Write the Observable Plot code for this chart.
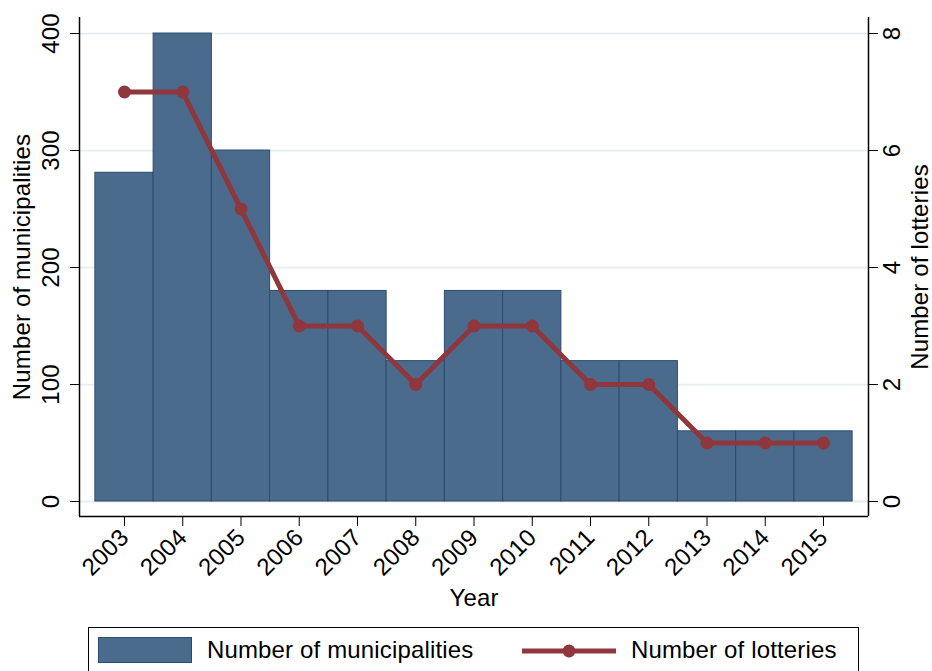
<!DOCTYPE html>
<html>
<head>
<meta charset="utf-8">
<script src="https://cdn.jsdelivr.net/npm/d3@7"></script>
<script src="https://cdn.jsdelivr.net/npm/@observablehq/plot@0.6"></script>
<style>
  html, body { margin: 0; padding: 0; background: #fff; overflow: hidden; }
  body { width: 932px; height: 671px; font-family: "Liberation Sans", Arial, sans-serif; }
  #chart { position: absolute; left: 0; top: 0; }
  .legend { position: absolute; left: 88px; top: 627px; width: 771px; height: 52px; border: 1.3px solid #000; box-sizing: border-box; }
  .legend .sw { position: absolute; }
  .legend .lab { position: absolute; font-size: 24px; letter-spacing: 0.15px; line-height: 26px; color: #000; white-space: nowrap; }
</style>
</head>
<body>
<div id="chart"></div>
<div class="legend" id="legend"></div>
<script>
const years = [2003, 2004, 2005, 2006, 2007, 2008, 2009, 2010, 2011, 2012, 2013, 2014, 2015];
const municipalities = [281, 400, 300, 180, 180, 120, 180, 180, 120, 120, 60, 60, 60];
const lotteries = [7, 7, 5, 3, 3, 2, 3, 3, 2, 2, 1, 1, 1];
const leftTicks = [0, 100, 200, 300, 400];
const rightTicks = [0, 2, 4, 6, 8];
const seriesNames = ["Number of municipalities", "Number of lotteries"];
const xTitle = "Year";

const ratio = 50; // right axis (lotteries) 8 ↔ left axis 400
const barFill = "#4a6b8c";
const barStroke = "#2a4c70";
const lineColor = "#90363d";
const gridColor = "#e4eef2";

const data = years.map((y, i) => ({year: y, muni: municipalities[i], lot: lotteries[i]}));
const xDomain = [2002.2275, 2015.7725];
const yDomain = [-12.8, 413.7];
const fs = 24;

const chart = Plot.plot({
  width: 932,
  height: 627,
  marginLeft: 79,
  marginRight: 64,
  marginTop: 17,
  marginBottom: 111,
  style: {fontFamily: "'Liberation Sans', Arial, sans-serif", fontSize: fs + "px", background: "#fff", color: "#000"},
  x: {type: "linear", domain: xDomain},
  y: {type: "linear", domain: yDomain},
  marks: [
    Plot.gridY(leftTicks, {stroke: gridColor, strokeOpacity: 1, strokeWidth: 1.8}),
    Plot.rectY(data, {x1: d => d.year - 0.5, x2: d => d.year + 0.5, y1: 0, y2: "muni", fill: barFill, stroke: barStroke, strokeWidth: 1}),
    Plot.line(data, {x: "year", y: d => d.lot * ratio, stroke: lineColor, strokeWidth: 5}),
    Plot.dot(data, {x: "year", y: d => d.lot * ratio, r: 6.5, fill: lineColor, stroke: "none"}),
    Plot.ruleX([xDomain[0]], {stroke: "#000", strokeWidth: 1.5}),
    Plot.ruleX([xDomain[1]], {stroke: "#000", strokeWidth: 1.5}),
    Plot.ruleY([yDomain[0]], {stroke: "#000", strokeWidth: 1.5}),
    Plot.axisY({anchor: "left", ticks: leftTicks, tickSize: 9, tickPadding: 12, tickRotate: -90, fontSize: fs, label: null, tickFormat: d => String(d)}),
    Plot.axisY({anchor: "right", ticks: rightTicks.map(v => v * ratio), tickSize: 9, tickPadding: 5, tickRotate: -90, lineAnchor: "top", fontSize: fs, label: null, tickFormat: d => String(d / ratio)}),
    Plot.axisX({anchor: "bottom", ticks: years, tickSize: 10, tickPadding: 7, tickRotate: -45, fontSize: fs, label: null, tickFormat: d => String(d)}),
    Plot.text([seriesNames[0]], {frameAnchor: "left", dx: -57, rotate: -90, textAnchor: "middle", lineAnchor: "middle", fontSize: fs, text: d => d}),
    Plot.text([seriesNames[1]], {frameAnchor: "right", dx: 52, rotate: -90, textAnchor: "middle", lineAnchor: "middle", fontSize: fs, text: d => d}),
    Plot.text([xTitle], {frameAnchor: "bottom", dy: 82, textAnchor: "middle", lineAnchor: "middle", fontSize: fs, text: d => d})
  ]
});
chart.querySelectorAll("text").forEach(t => t.setAttribute("letter-spacing", "0.15"));
document.getElementById("chart").appendChild(chart);

// legend (HTML, below the SVG)
const legend = document.getElementById("legend");
legend.innerHTML = `
  <div class="sw" style="left:9px; top:9px; width:94px; height:26px; background:${barFill}; border:1px solid ${barStroke}; box-sizing:border-box;"></div>
  <div class="lab" style="left:118px; top:9px;">${seriesNames[0]}</div>
  <svg class="sw" style="left:432px; top:10px;" width="96" height="26">
    <line x1="1" x2="95" y1="13" y2="13" stroke="${lineColor}" stroke-width="5"/>
    <circle cx="48" cy="13" r="6.5" fill="${lineColor}"/>
  </svg>
  <div class="lab" style="left:542px; top:9px;">${seriesNames[1]}</div>
`;
</script>
</body>
</html>
